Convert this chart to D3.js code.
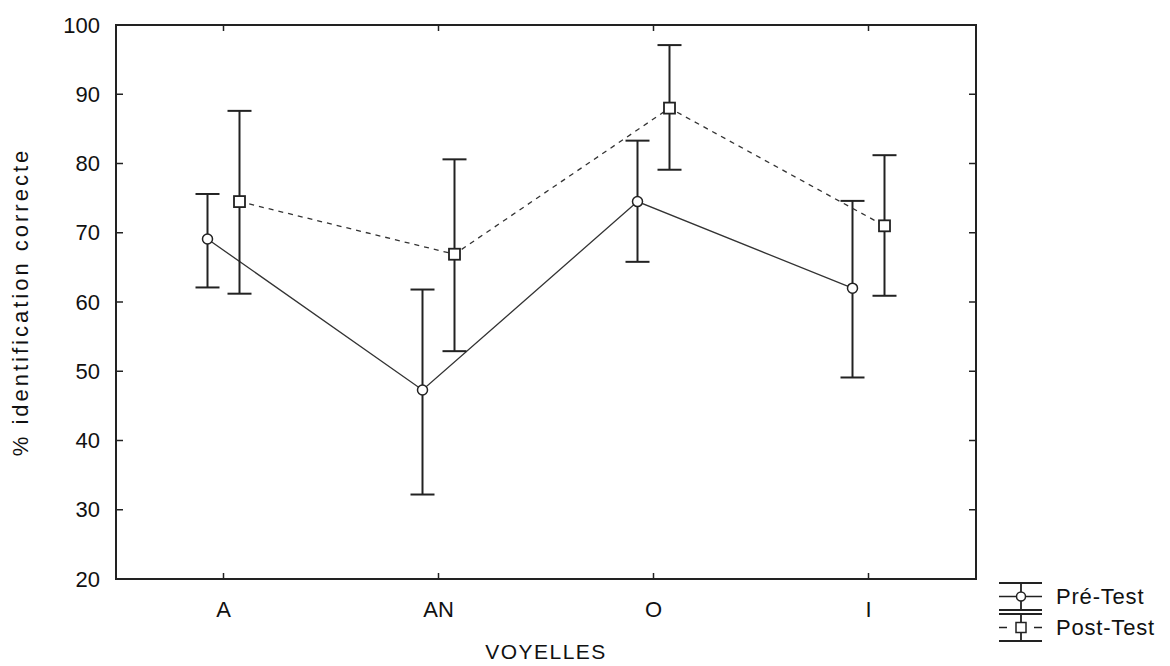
<!DOCTYPE html>
<html>
<head>
<meta charset="utf-8">
<script src="https://cdn.jsdelivr.net/npm/d3@7"></script>
<style>
  body { margin: 0; background: #fff; }
  text { font-family: "Liberation Sans", Arial, sans-serif; fill: #111; }
</style>
</head>
<body>
<script>
// data
var categories = ["A", "AN", "O", "I"];
var preMean  = [69.1, 47.3, 74.5, 62.0];
var preLow   = [62.1, 32.2, 65.8, 49.1];
var preHigh  = [75.6, 61.8, 83.3, 74.6];
var postMean = [74.5, 66.9, 88.0, 71.0];
var postLow  = [61.2, 52.9, 79.1, 60.9];
var postHigh = [87.6, 80.6, 97.1, 81.2];
var yTicks = [20, 30, 40, 50, 60, 70, 80, 90, 100];

var margin = {top: 25, right: 194, bottom: 87, left: 116},
    width = 1170 - margin.left - margin.right,
    height = 666 - margin.top - margin.bottom;

var svg = d3.select("body")
  .append("svg")
    .attr("width", 1170)
    .attr("height", 666)
  .append("g")
    .attr("transform", "translate(" + margin.left + "," + margin.top + ")");

var x = d3.scaleBand()
  .domain(categories)
  .range([0, width]);

var y = d3.scaleLinear()
  .domain([20, 100])
  .range([height, 0]);

var off = 16;   // horizontal shift of the two groups
var cap = 12;   // half width of error bar caps

// frame
svg.append("rect")
  .attr("width", width)
  .attr("height", height)
  .attr("fill", "none")
  .attr("stroke", "#222")
  .attr("stroke-width", 2);

// inward ticks, left / right / bottom / top
yTicks.forEach(function(t) {
  if (t == 20 || t == 100) return;
  svg.append("line").attr("x1", 0).attr("x2", 7).attr("y1", y(t)).attr("y2", y(t))
    .attr("stroke", "#222").attr("stroke-width", 1.5);
  svg.append("line").attr("x1", width).attr("x2", width - 7).attr("y1", y(t)).attr("y2", y(t))
    .attr("stroke", "#222").attr("stroke-width", 1.5);
});
categories.forEach(function(c) {
  var cx = x(c) + x.bandwidth() / 2;
  svg.append("line").attr("x1", cx).attr("x2", cx).attr("y1", height).attr("y2", height - 6)
    .attr("stroke", "#222").attr("stroke-width", 1.5);
  svg.append("line").attr("x1", cx).attr("x2", cx).attr("y1", 0).attr("y2", 6)
    .attr("stroke", "#222").attr("stroke-width", 1.5);
});

// tick labels
svg.selectAll(".ylab")
  .data(yTicks)
  .enter()
  .append("text")
    .attr("x", -16)
    .attr("y", function(d) { return y(d); })
    .attr("dy", "0.35em")
    .attr("text-anchor", "end")
    .style("font-size", "22px")
    .text(function(d) { return d; });

svg.selectAll(".xlab")
  .data(categories)
  .enter()
  .append("text")
    .attr("x", function(d) { return x(d) + x.bandwidth() / 2; })
    .attr("y", height + 30)
    .attr("dy", "0.35em")
    .attr("text-anchor", "middle")
    .style("font-size", "22px")
    .text(function(d) { return d; });

// axis titles
svg.append("text")
  .attr("x", width / 2)
  .attr("y", height + 73)
  .attr("dy", "0.35em")
  .attr("text-anchor", "middle")
  .style("font-size", "21px")
  .style("letter-spacing", "1.5px")
  .text("VOYELLES");

svg.append("text")
  .attr("transform", "translate(" + (-96) + "," + (height / 2) + ")rotate(-90)")
  .attr("dy", "0.35em")
  .attr("text-anchor", "middle")
  .style("font-size", "22px")
  .style("letter-spacing", "3px")
  .text("% identification correcte");

function xPos(i, dx) { return x(categories[i]) + x.bandwidth() / 2 + dx; }

function drawSeries(mean, low, high, dx, dashed, marker) {
  var line = d3.line()
    .x(function(d, i) { return xPos(i, dx); })
    .y(function(d) { return y(d); });

  svg.append("path")
    .datum(mean)
    .attr("d", line)
    .attr("fill", "none")
    .attr("stroke", "#333")
    .attr("stroke-width", 1.3)
    .attr("stroke-dasharray", dashed ? "5,5" : null);

  var g = svg.append("g");
  mean.forEach(function(m, i) {
    var cx = xPos(i, dx);
    g.append("line").attr("x1", cx).attr("x2", cx).attr("y1", y(low[i])).attr("y2", y(high[i]))
      .attr("stroke", "#222").attr("stroke-width", 2);
    g.append("line").attr("x1", cx - cap).attr("x2", cx + cap).attr("y1", y(low[i])).attr("y2", y(low[i]))
      .attr("stroke", "#222").attr("stroke-width", 2);
    g.append("line").attr("x1", cx - cap).attr("x2", cx + cap).attr("y1", y(high[i])).attr("y2", y(high[i]))
      .attr("stroke", "#222").attr("stroke-width", 2);
    if (marker == "circle") {
      g.append("circle").attr("cx", cx).attr("cy", y(m)).attr("r", 5)
        .attr("fill", "#fff").attr("stroke", "#222").attr("stroke-width", 1.5);
    } else {
      g.append("rect").attr("x", cx - 5.5).attr("y", y(m) - 5.5).attr("width", 11).attr("height", 11)
        .attr("fill", "#fff").attr("stroke", "#222").attr("stroke-width", 1.8);
    }
  });
}

drawSeries(preMean, preLow, preHigh, -off, false, "circle");
drawSeries(postMean, postLow, postHigh, off, true, "square");

// legend
var leg = d3.select("svg").append("g");
function legendItem(y0, label, dashed, marker) {
  var cx = 1021;
  leg.append("line").attr("x1", 999).attr("x2", 1042).attr("y1", y0).attr("y2", y0)
    .attr("stroke", "#222").attr("stroke-width", 1.8);
  leg.append("line").attr("x1", 999).attr("x2", 1042).attr("y1", y0 + 27).attr("y2", y0 + 27)
    .attr("stroke", "#222").attr("stroke-width", 1.8);
  leg.append("line").attr("x1", cx).attr("x2", cx).attr("y1", y0).attr("y2", y0 + 27)
    .attr("stroke", "#222").attr("stroke-width", 1.8);
  if (dashed) {
    leg.append("line").attr("x1", 999).attr("x2", 1007).attr("y1", y0 + 13.5).attr("y2", y0 + 13.5)
      .attr("stroke", "#222").attr("stroke-width", 1.5);
    leg.append("line").attr("x1", 1034).attr("x2", 1042).attr("y1", y0 + 13.5).attr("y2", y0 + 13.5)
      .attr("stroke", "#222").attr("stroke-width", 1.5);
  } else {
    leg.append("line").attr("x1", 999).attr("x2", 1042).attr("y1", y0 + 13.5).attr("y2", y0 + 13.5)
      .attr("stroke", "#222").attr("stroke-width", 1.5);
  }
  if (marker == "circle") {
    leg.append("circle").attr("cx", cx).attr("cy", y0 + 13.5).attr("r", 4.5)
      .attr("fill", "#fff").attr("stroke", "#222").attr("stroke-width", 1.5);
  } else {
    leg.append("rect").attr("x", cx - 5).attr("y", y0 + 8.5).attr("width", 10).attr("height", 10)
      .attr("fill", "#fff").attr("stroke", "#222").attr("stroke-width", 1.5);
  }
  leg.append("text").attr("x", 1056).attr("y", y0 + 13.5).attr("dy", "0.35em")
    .style("font-size", "22px").style("letter-spacing", "0.8px").text(label);
}
legendItem(583, "Pré-Test", false, "circle");
legendItem(614, "Post-Test", true, "square");
</script>
</body>
</html>
